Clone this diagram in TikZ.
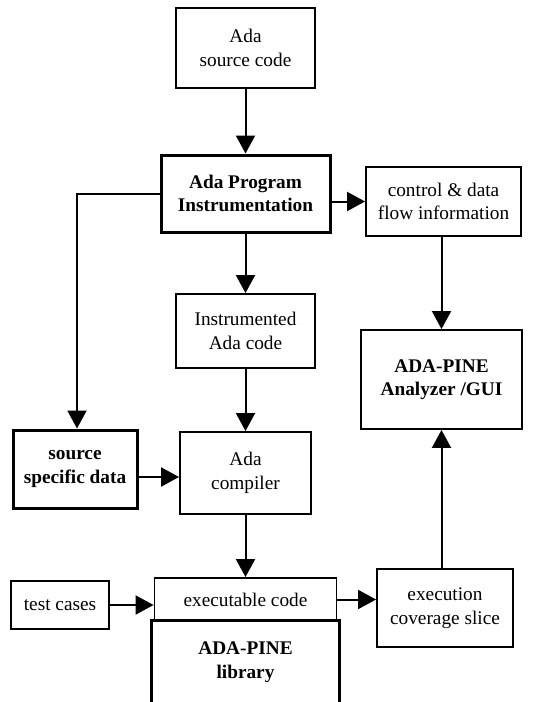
\documentclass[tikz,border=0pt]{standalone}
\usepackage{fontspec}
\setmainfont{Liberation Serif}
\usetikzlibrary{arrows.meta}
\tikzset{box/.style={draw, line width=1.9pt, align=center, inner sep=0pt, font=\fontsize{19.3}{23.5}\selectfont}}
\tikzset{boldbox/.style={box, line width=3pt, font=\fontsize{19.3}{23.5}\selectfont\bfseries}}
\tikzset{link/.style={line width=2pt, -{Triangle[length=18pt, width=19pt]}}}

\begin{document}
\begin{tikzpicture}[x=1pt, y=-1pt]
\useasboundingbox (0,0) rectangle (556,702);

\node[box, minimum width=139pt, minimum height=80pt] (src) at (245.5,48) {Ada\\source code};
\node[boldbox, minimum width=169pt, minimum height=77pt] (instr) at (245.5,193.5) {Ada Program\\Instrumentation};
\node[box, minimum width=155pt, minimum height=69pt] (info) at (443.5,201.5) {control \& data\\flow information};
\node[box, minimum width=139pt, minimum height=74pt] (instd) at (245.5,331) {Instrumented\\Ada code};
\node[box, font=\fontsize{19.3}{23.5}\selectfont\bfseries, minimum width=161pt, minimum height=99pt] (gui) at (441.5,379.5) {ADA-PINE\\Analyzer /GUI};
\node[boldbox, minimum width=124pt, minimum height=78pt] (ssd) at (75,469) {source\\specific data};
\node[box, minimum width=131pt, minimum height=82pt] (comp) at (245.5,473) {Ada\\compiler};
\node[box, minimum width=98pt, minimum height=48pt] (test) at (60,605) {test cases};
\node[box, minimum width=182pt, minimum height=43pt] (exe) at (245.5,599.5) {executable code};
\node[box, minimum width=136pt, minimum height=78pt] (slice) at (445,608) {execution\\coverage slice};
\node[boldbox, draw=none, minimum width=185pt, minimum height=80pt] (lib) at (245.5,662) {ADA-PINE\\library};
\draw[line width=3pt] (lib.south west) -- (lib.north west) -- (lib.north east) -- (lib.south east);

\coordinate (turn) at ([xshift=2pt]instr.west -| ssd.north);

\draw[link] (src) -- (instr);
\draw[link] (instr.east |- info.west) -- (info.west);
\draw[link] (instr.west) -- (turn) -- (turn |- ssd.north);
\draw[link] (instr) -- (instd);
\draw[link] (instd) -- (comp);
\draw[link] ([yshift=-8pt]ssd.east) -- ([yshift=-8pt]ssd.east -| comp.west);
\draw[link] (comp) -- (exe);
\draw[link] (test.east) -- (test.east -| exe.west);
\draw[link] (exe.east) -- (exe.east -| slice.west);
\draw[link] (info.south -| gui.north) -- (gui.north);
\draw[link] (slice.north -| gui.south) -- (gui.south);
\end{tikzpicture}
\end{document}
